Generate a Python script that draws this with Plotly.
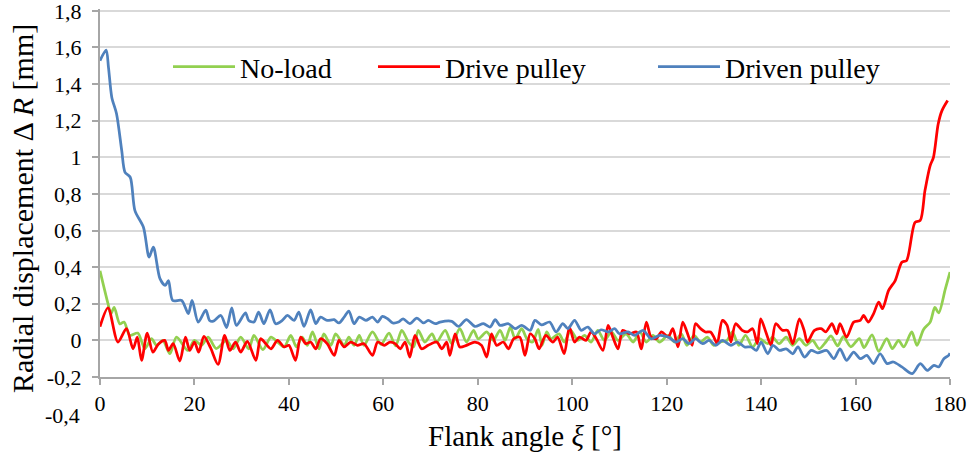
import plotly.graph_objects as go

# ---------------- data ----------------
noload_x = [0, 1.7, 2.3, 3.0, 4.2, 5.1, 6.3, 8.0, 9.5, 10.9, 12.0, 13.3, 14.8, 16.2, 18.6, 20.0,
            21.5, 22.9, 24.6, 26.8, 28.2, 29.8, 31.5, 32.6, 34.5, 36.2, 37.6, 39.0, 40.4, 41.6,
            42.8, 43.9, 45.0, 46.4, 47.4, 48.9, 49.9, 51.7, 52.7, 53.8, 54.9, 55.9, 57.7, 59.5,
            61.2, 62.6, 63.9, 65.3, 66.4, 67.4, 68.8, 70.3, 71.3, 73.1, 74.5, 76.2, 77.6, 79.1,
            80.1, 81.9, 83.3, 84.7, 85.8, 86.9, 87.9, 89.3, 90.4, 91.6, 92.8, 93.6, 94.6, 95.5,
            97.2, 98.3, 99.7, 101.2, 102.6, 104.0, 105.4, 106.8, 108.3, 109.7, 111.4, 112.9,
            114.3, 115.7, 117.1, 118.5, 120.3, 121.7, 123.1, 124.3, 125.8, 127.2, 128.6, 130.0,
            131.4, 132.8, 133.9, 135.3, 136.7, 138.2, 139.6, 141.4, 142.4, 143.8, 145.3, 146.7,
            148.1, 149.5, 150.9, 152.3, 153.7, 154.8, 156.2, 157.4, 159.0, 160.8, 161.8, 163.5,
            164.9, 166.6, 167.8, 169.1, 170.2, 171.9, 173.0, 174.4, 175.8, 176.8, 177.6, 179.0, 180]
noload_y = [0.38, 0.2, 0.145, 0.18, 0.09, 0.1, 0.027, 0.04, -0.046, 0.009, -0.027, 0.0, -0.073, 0.018, -0.055, 0.0,
            -0.027, 0.018, -0.045, 0.0, -0.046, 0.018, -0.046, 0.027, -0.05, 0.018, -0.009, -0.036, 0.027, -0.035,
            0.018, -0.027, 0.046, -0.046, 0.036, -0.027, 0.036, -0.027, 0.018, -0.027, 0.027, -0.027, 0.046, -0.022,
            0.04, -0.03, 0.055, -0.009, -0.036, 0.055, -0.009, 0.036, -0.009, 0.055, -0.018, 0.064, -0.009, 0.055,
            0.009, 0.046, 0.0, 0.055, 0.0, 0.073, 0.009, 0.064, 0.009, -0.009, 0.06, -0.027, 0.046, 0.009,
            0.036, -0.009, 0.055, 0.0, 0.027, -0.009, 0.055, 0.0, 0.046, 0.0, 0.036, -0.009,
            0.046, -0.009, 0.027, -0.009, 0.027, -0.009, 0.036, -0.027, 0.027, -0.009, 0.018, -0.027,
            -0.009, 0.0, 0.046, -0.027, 0.027, -0.036, 0.009, -0.018, 0.018, -0.018, 0.018, -0.027,
            0.009, -0.027, 0.0, -0.046, -0.009, 0.025, -0.03, 0.02, -0.035, 0.01, -0.04, 0.03,
            -0.06, 0.01, -0.045, 0.0, -0.036, 0.046, -0.027, 0.06, 0.1, 0.18, 0.15, 0.28, 0.373]

drive_x = [0, 1.7, 3.8, 5.6, 7.0, 7.9, 8.8, 10.0, 11.2, 12.3, 13.7, 14.5, 15.5, 16.9, 18.1, 19.0,
           20.0, 20.9, 22.0, 23.4, 25.0, 26.4, 27.5, 28.7, 29.8, 31.2, 33.0, 34.0, 35.1, 36.2,
           37.6, 39.0, 40.0, 41.4, 42.5, 43.6, 44.6, 45.7, 46.7, 48.1, 49.6, 50.6, 51.7, 53.1,
           54.5, 55.9, 57.7, 58.8, 60.2, 61.4, 62.5, 63.6, 64.6, 65.6, 66.7, 68.1, 69.5, 71.3,
           72.4, 73.4, 74.1, 75.2, 76.2, 77.6, 79.4, 80.8, 81.9, 82.9, 84.0, 85.4, 86.5, 87.6,
           88.9, 90.0, 91.1, 92.1, 93.0, 94.4, 95.9, 96.9, 98.3, 99.4, 100.5, 101.5, 102.9,
           104.0, 105.1, 106.5, 107.6, 108.6, 109.7, 110.7, 112.2, 113.6, 114.6, 115.7, 116.7,
           117.8, 118.9, 120.3, 121.3, 122.4, 123.4, 124.3, 125.4, 126.1, 127.2, 128.2, 129.3,
           130.0, 130.7, 131.8, 132.8, 133.6, 134.6, 136.0, 137.1, 138.2, 139.2, 139.9, 141.0,
           142.1, 143.1, 144.5, 145.6, 146.7, 148.1, 149.1, 149.8, 151.3, 152.7, 153.7, 155.0,
           156.0, 156.7, 158.1, 159.6, 161.0, 161.7, 162.7, 163.8, 164.9, 165.7, 167.0, 168.4,
           169.8, 170.8, 172.6, 173.7, 174.7, 175.8, 176.5, 177.5, 178.3, 179.5]
drive_y = [0.075, 0.178, -0.009, 0.064, -0.046, 0.018, -0.109, 0.04, -0.064, -0.022, 0.0, -0.055, -0.018, -0.113, 0.018, -0.055,
           -0.009, -0.064, 0.022, -0.04, -0.131, 0.027, -0.055, -0.009, -0.064, -0.005, -0.109, 0.009, -0.018, -0.046,
           0.0, -0.036, -0.027, -0.109, 0.018, -0.018, -0.009, -0.046, 0.009, -0.018, -0.082, 0.0, -0.036, -0.009,
           -0.027, -0.018, -0.082, -0.009, -0.027, -0.01, -0.018, -0.046, -0.009, -0.091, 0.027, -0.046, -0.027, -0.009,
           -0.046, -0.009, -0.082, 0.036, -0.036, -0.027, -0.009, -0.027, -0.091, 0.036, -0.027, -0.009, -0.046, 0.009,
           0.018, -0.082, 0.036, 0.009, -0.046, 0.027, -0.009, 0.018, -0.073, 0.073, -0.009, 0.018, 0.0,
           0.046, 0.009, -0.055, 0.082, 0.018, -0.046, 0.055, 0.036, 0.046, -0.046, 0.1, 0.018,
           0.009, 0.046, 0.018, 0.064, -0.036, 0.1, 0.046, -0.027, 0.091, 0.064, 0.046, 0.046,
           0.018, -0.018, 0.109, 0.082, -0.009, 0.091, 0.055, 0.046, 0.064, -0.018, 0.118, 0.046,
           -0.027, 0.091, 0.055, 0.055, -0.018, 0.118, 0.055, -0.009, 0.055, 0.064, 0.046, 0.091,
           0.036, 0.091, 0.018, 0.1, 0.109, 0.136, 0.1, 0.145, 0.209, 0.173, 0.273, 0.327,
           0.427, 0.436, 0.645, 0.655, 0.818, 0.955, 1.0, 1.182, 1.255, 1.31]

driven_x = [0, 1.3, 1.8, 2.5, 3.5, 4.6, 5.3, 6.4, 7.4, 9.2, 10.4, 11.3, 12.7, 13.8, 14.5, 15.4,
            17.3, 18.7, 19.5, 20.8, 22.4, 23.2, 24.0, 25.6, 26.8, 27.9, 28.9, 30.8, 31.5, 32.6,
            33.6, 34.7, 36.0, 37.2, 38.6, 39.7, 41.1, 42.1, 43.2, 44.6, 45.7, 46.7, 48.1, 49.6,
            50.6, 51.7, 52.7, 53.8, 54.9, 56.3, 57.7, 58.8, 59.8, 60.9, 62.0, 63.2, 64.2, 65.6,
            67.1, 68.5, 69.5, 71.0, 72.0, 74.5, 75.9, 77.6, 79.4, 81.2, 82.6, 83.7, 84.7, 86.5,
            87.9, 89.3, 91.1, 92.1, 93.5, 95.2, 96.6, 98.0, 99.1, 100.5, 101.9, 103.3, 104.7,
            106.1, 107.6, 109.0, 110.0, 111.8, 113.2, 115.0, 116.7, 118.5, 120.3, 122.0, 123.4,
            124.7, 126.1, 127.6, 129.0, 130.4, 131.8, 133.6, 135.0, 136.5, 137.9, 139.0, 140.0,
            141.4, 142.5, 143.9, 145.3, 146.7, 147.8, 149.2, 150.6, 152.0, 153.9, 155.4, 156.7,
            158.1, 159.6, 161.0, 162.4, 163.8, 165.2, 166.7, 168.0, 169.8, 172.0, 173.7, 175.2,
            176.6, 177.6, 178.7, 179.7, 180]
driven_y = [1.528, 1.586, 1.49, 1.327, 1.238, 1.037, 0.918, 0.891, 0.709, 0.618, 0.455, 0.509, 0.337, 0.3, 0.327, 0.218,
            0.218, 0.146, 0.218, 0.1, 0.165, 0.109, 0.105, 0.136, 0.07, 0.178, 0.082, 0.15, 0.109, 0.1,
            0.155, 0.091, 0.167, 0.091, 0.109, 0.136, 0.109, 0.155, 0.076, 0.167, 0.091, 0.127, 0.109, 0.113,
            0.095, 0.127, 0.16, 0.091, 0.127, 0.109, 0.127, 0.1, 0.131, 0.118, 0.095, 0.1, 0.118, 0.091,
            0.122, 0.095, 0.109, 0.091, 0.1, 0.104, 0.076, 0.113, 0.076, 0.091, 0.073, 0.113, 0.082, 0.091,
            0.064, 0.082, 0.055, 0.109, 0.085, 0.1, 0.046, 0.091, 0.064, 0.109, 0.055, 0.073, 0.036,
            0.058, 0.046, 0.064, 0.036, 0.046, 0.027, 0.055, 0.009, 0.027, 0.018, -0.009, 0.009,
            -0.018, 0.009, -0.018, 0.0, -0.027, 0.0, -0.027, -0.009, -0.036, -0.036, -0.055, -0.009,
            -0.073, -0.027, -0.055, -0.046, -0.073, -0.036, -0.091, -0.055, -0.068, -0.055, -0.1, -0.046,
            -0.109, -0.064, -0.1, -0.082, -0.127, -0.073, -0.127, -0.118, -0.145, -0.182, -0.127, -0.164,
            -0.136, -0.145, -0.1, -0.082, -0.07]

series_names = ["No-load", "Drive pulley", "Driven pulley"]
series_colors = ["#92D050", "#FF0000", "#4F81BD"]

x_ticks = [0, 20, 40, 60, 80, 100, 120, 140, 160, 180]
y_ticks = [-0.2, 0, 0.2, 0.4, 0.6, 0.8, 1.0, 1.2, 1.4, 1.6, 1.8]
y_ticktext = ["-0,2", "0", "0,2", "0,4", "0,6", "0,8", "1", "1,2", "1,4", "1,6", "1,8"]
extra_label = "-0,4"
x_title = "Flank angle <i>ξ</i> [°]"
y_title = "Radial displacement Δ <i>R</i> [mm]"

FONT = "Liberation Serif"
# plot area: top 9 px, bottom at 377 px  (y range -0.2 .. 1.81)
T, B = 9, 81
PH = 458 - T - B

fig = go.Figure()
data = [(noload_x, noload_y), (drive_x, drive_y), (driven_x, driven_y)]
legend_ids = ["legend", "legend2", "legend3"]
for (xs, ys), name, col, lg in zip(data, series_names, series_colors, legend_ids):
    fig.add_trace(go.Scatter(x=xs, y=ys, mode="lines", name=name, legend=lg, showlegend=True,
                             line=dict(color=col, width=2.75, shape="spline", smoothing=0.8)))

ITEMW = 62
leg_common = dict(orientation="h", yanchor="middle", y=(377 - 67) / PH, xanchor="left",
                  bgcolor="rgba(0,0,0,0)", font=dict(family=FONT, size=28, color="#000"),
                  itemwidth=ITEMW, visible=True)
off = ITEMW + 10
fig.update_layout(
    template="none",
    width=980, height=458,
    margin=dict(l=100, r=30, t=T, b=B, autoexpand=False),
    paper_bgcolor="white", plot_bgcolor="white",
    separators=", ",
    showlegend=True,
    font=dict(family=FONT, size=22, color="#000"),
    legend=dict(leg_common, x=(240 - off - 100) / 850),
    legend2=dict(leg_common, x=(445 - off - 100) / 850),
    legend3=dict(leg_common, x=(725 - off - 100) / 850),
    xaxis=dict(range=[0, 180], tickvals=x_ticks, showgrid=False, zeroline=False,
               automargin=False,
               showline=True, linecolor="#A6A6A6", linewidth=2,
               ticks="outside", ticklen=6, tickcolor="#A6A6A6", tickwidth=2,
               ticklabelstandoff=0, ticklabeloverflow="allow",
               tickfont=dict(family=FONT, size=22, color="#000"),
               title=dict(text=x_title, standoff=10,
                          font=dict(family=FONT, size=29, color="#000"))),
    yaxis=dict(range=[-0.2, 1.81], tickvals=y_ticks, ticktext=y_ticktext,
               showgrid=True, gridcolor="#D9D9D9", gridwidth=1.5, zeroline=False,
               automargin=False,
               showline=True, linecolor="#A6A6A6", linewidth=2,
               ticks="outside", ticklen=6, tickcolor="#A6A6A6", tickwidth=2,
               ticklabelstandoff=6, ticklabeloverflow="allow",
               tickfont=dict(family=FONT, size=22, color="#000")),
)
fig.add_annotation(text=extra_label, xref="paper", yref="paper", x=0, y=-0.1,
                   xanchor="right", yanchor="middle", xshift=-18, yshift=-2, showarrow=False,
                   font=dict(family=FONT, size=22, color="#000"))
fig.add_annotation(text=y_title, xref="paper", yref="paper",
                   x=(22 - 100) / 850, y=(377 - 209) / PH, textangle=-90,
                   xanchor="center", yanchor="middle", showarrow=False,
                   font=dict(family=FONT, size=30, color="#000"))

fig.write_html("out.html", config={"displayModeBar": False},
               post_script="document.body.style.margin='0';document.body.style.padding='0';")
